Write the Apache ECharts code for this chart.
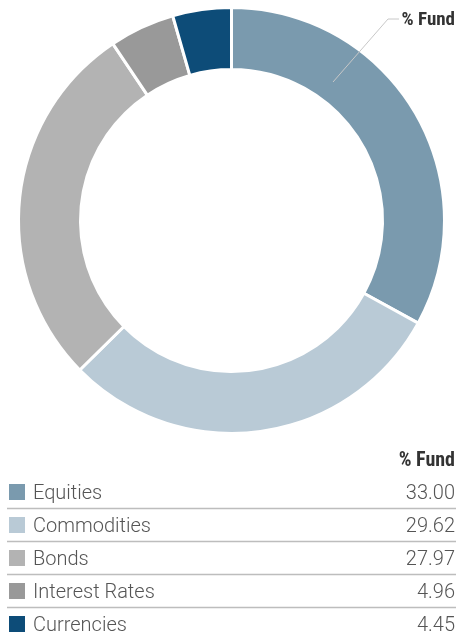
<!DOCTYPE html>
<html>
<head>
<meta charset="utf-8">
<script src="https://cdn.jsdelivr.net/npm/echarts@6/dist/echarts.min.js"></script>
<style>html,body{margin:0;padding:0;background:#fff}#c{width:456px;height:637px}</style>
</head>
<body>
<div id="c"></div>
<script>
const categories = ['Equities', 'Commodities', 'Bonds', 'Interest Rates', 'Currencies'];
const values = [33.00, 29.62, 27.97, 4.96, 4.45];
const valueLabels = ['33.00', '29.62', '27.97', '4.96', '4.45'];
const colors = ['#7a9aae', '#b9cad6', '#b3b3b3', '#999999', '#0d4c78'];
const headerText = '% Fund';

const chart = echarts.init(document.getElementById('c'), null, {renderer: 'canvas'});
const bodyFont = 'Roboto, "Liberation Sans", sans-serif';
const headFont = '"Liberation Sans Narrow", "Roboto Condensed", "DejaVu Sans Condensed", sans-serif';

const graphics = [];
graphics.push({type: 'polyline', shape: {points: [[333, 82], [388, 19], [399, 19]]},
  style: {stroke: '#c8c8c8', lineWidth: 1, fill: null}, z: 10});
graphics.push({type: 'text', x: 455, y: 20, style: {text: headerText, fill: '#333',
  font: 'bold 19px ' + headFont, textVerticalAlign: 'middle', textAlign: 'right'}, z: 10});
graphics.push({type: 'text', x: 455, y: 461, style: {text: headerText, fill: '#333',
  font: 'bold 20px ' + headFont, textVerticalAlign: 'middle', textAlign: 'right'}});
const rowTop = 492, rowStep = 33;
categories.forEach((name, i) => {
  const cy = rowTop + i * rowStep;
  graphics.push({type: 'rect', shape: {x: 9, y: cy - 8, width: 16, height: 16}, style: {fill: colors[i]}});
  graphics.push({type: 'text', x: 33, y: cy + 1.5, style: {text: name, fill: '#555',
    font: '300 20px ' + bodyFont, textVerticalAlign: 'middle', textAlign: 'left'}});
  graphics.push({type: 'text', x: 455, y: cy + 1.5, style: {text: valueLabels[i], fill: '#555',
    font: '300 20px ' + bodyFont, textVerticalAlign: 'middle', textAlign: 'right'}});
  if (i < categories.length - 1) {
    graphics.push({type: 'line', shape: {x1: 7, y1: cy + 16.5, x2: 456, y2: cy + 16.5},
      style: {stroke: '#bdbdbd', lineWidth: 1.5}});
  }
});

chart.setOption({
  animation: false,
  backgroundColor: '#fff',
  series: [{
    type: 'pie',
    center: [231.5, 220.5],
    radius: [151, 213],
    startAngle: 90,
    clockwise: true,
    silent: true,
    label: {show: false},
    labelLine: {show: false},
    itemStyle: {borderColor: '#fff', borderWidth: 3},
    data: categories.map((n, i) => ({name: n, value: values[i], itemStyle: {color: colors[i]}}))
  }],
  graphic: graphics
});
</script>
</body>
</html>
